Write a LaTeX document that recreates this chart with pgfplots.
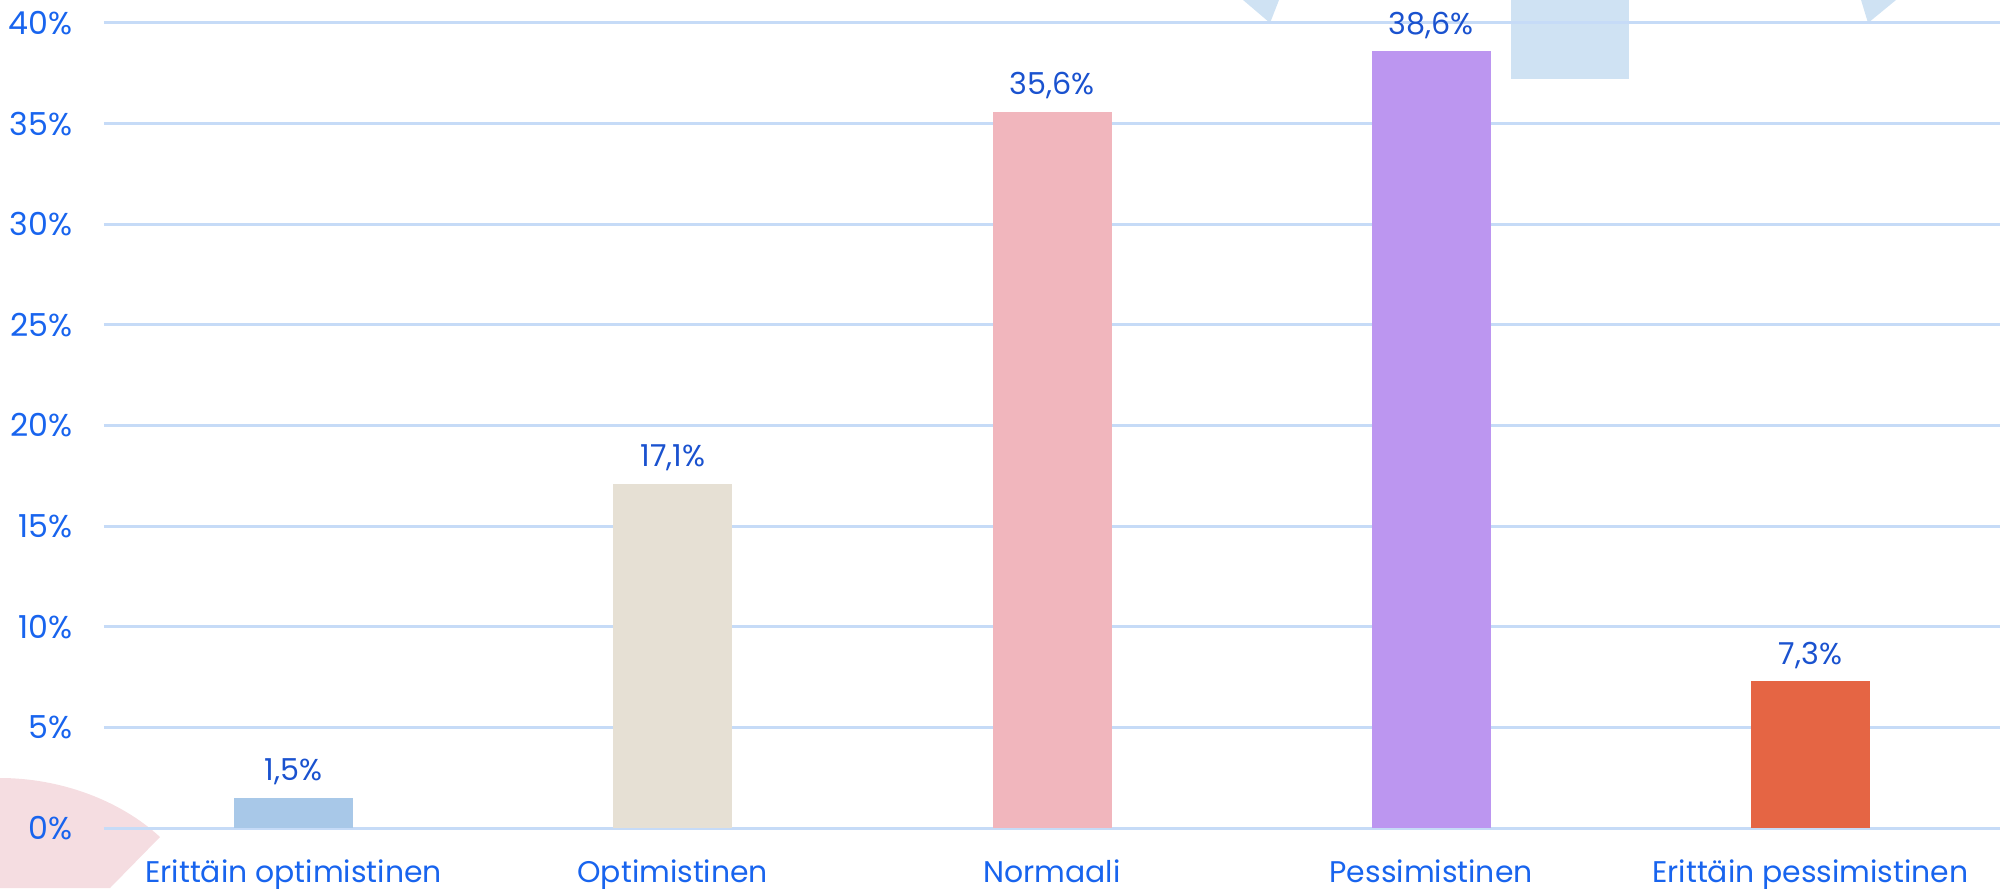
\documentclass[border=0pt]{standalone}
\usepackage{fontspec}
\setmainfont{Poppins}
\usepackage{pgfplots}
\pgfplotsset{compat=1.18}

\definecolor{gridblue}{HTML}{C6DBF7}
\definecolor{tickblue}{HTML}{1864EE}
\definecolor{labblue}{HTML}{1A52CF}
\definecolor{decoblue}{HTML}{CFE2F3}
\definecolor{decopink}{HTML}{F5DDE1}
\definecolor{c1}{HTML}{A8C8E8}
\definecolor{c2}{HTML}{E6E0D4}
\definecolor{c3}{HTML}{F1B6BD}
\definecolor{c4}{HTML}{BC96F0}
\definecolor{c5}{HTML}{E56544}

\begin{document}
\begin{tikzpicture}
\useasboundingbox (0,0) rectangle (200mm,88.8mm);
% background decoration (pixel units, origin bottom left)
\begin{scope}[x=0.1mm,y=0.1mm]
\fill[decopink] (0,110) .. controls (60,110) and (120,88) .. (160,51) -- (110,0) -- (0,0) -- cycle;
\fill[decoblue] (1243,888) -- (1279,888) -- (1270,865) -- cycle;
\fill[decoblue] (1511,888) rectangle (1629,809);
\fill[decoblue] (1861,888) -- (1896,888) -- (1868,865) -- cycle;
\end{scope}
\begin{axis}[
  at={(10.4mm,6mm)}, anchor=south west,
  scale only axis, width=189.6mm, height=82.8mm,
  xmin=-0.5, xmax=4.5, ymin=0, ymax=41.14,
  axis lines=none, clip=false,
  ybar, bar width=11.9mm, bar shift=0pt,
  xtick=\empty, ytick=\empty,
  /pgf/number format/assume math mode=true,
  every node near coord/.append style={font=\fontsize{8.6}{10}\selectfont, text=labblue, anchor=base, yshift=1.7mm},
  nodes near coords={\pgfmathprintnumber[fixed,fixed zerofill,precision=1,use comma]{\pgfplotspointmeta}\%},
]
% gridlines and y labels
\foreach \v in {0,5,...,40} {
  \edef\tmp{\noexpand\draw[gridblue, line width=0.3mm] (axis cs:-0.5,\v) -- (axis cs:4.5,\v);
    \noexpand\node[anchor=east, inner sep=0pt, text=tickblue, font=\noexpand\fontsize{9}{10}\noexpand\selectfont] at ([xshift=-3.1mm]axis cs:-0.5,\v) {\v\noexpand\%};}
  \tmp
}
\addplot[fill=c1, draw=none] coordinates {(0,1.5)};
\addplot[fill=c2, draw=none] coordinates {(1,17.1)};
\addplot[fill=c3, draw=none] coordinates {(2,35.6)};
\addplot[fill=c4, draw=none] coordinates {(3,38.6)};
\addplot[fill=c5, draw=none] coordinates {(4,7.3)};
% category labels
\foreach \i/\t in {0/Erittäin optimistinen,1/Optimistinen,2/Normaali,3/Pessimistinen,4/Erittäin pessimistinen} {
  \edef\tmp{\noexpand\node[anchor=base, inner sep=0pt, text=tickblue, font=\noexpand\fontsize{8.5}{10}\noexpand\selectfont] at ([yshift=-5.4mm]axis cs:\i,0) {\t};}
  \tmp
}
\end{axis}
\end{tikzpicture}
\end{document}
